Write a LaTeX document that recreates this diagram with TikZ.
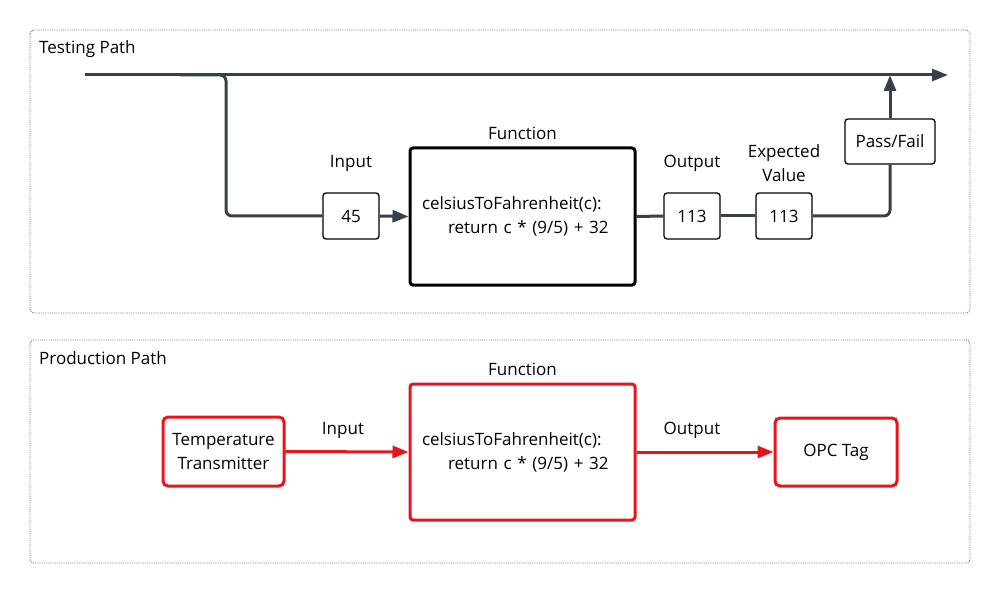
\documentclass[tikz,border=0pt]{standalone}
\usepackage{fontspec}
\setmainfont{Open Sans}
\usetikzlibrary{arrows.meta}
\definecolor{flowColor}{HTML}{3A4049}
\definecolor{prodColor}{HTML}{E8141B}
\definecolor{frameColor}{HTML}{707070}
\newcommand{\diagFont}{\fontsize{17bp}{24bp}\selectfont}
\tikzset{
  frameBox/.style={draw=frameColor, dash pattern=on 1bp off 1.2bp, line width=0.9bp, rounded corners=4bp},
  valueBox/.style={draw=black, line width=1.3bp, rounded corners=3bp, inner sep=0pt,
    minimum width=56bp, minimum height=46bp, font=\diagFont},
  funcBox/.style={draw=black, line width=3bp, rounded corners=3bp, inner xsep=12bp,
    text width=201bp, minimum height=137bp, align=left, font=\diagFont},
  prodBox/.style={draw=prodColor, line width=3bp, rounded corners=5bp, inner sep=0pt,
    align=center, font=\diagFont},
  lbl/.style={font=\diagFont, align=center, inner sep=0pt},
  flow/.style={draw=flowColor, line width=3bp},
  prodFlow/.style={draw=prodColor, line width=3bp},
  tip/.style={-{Triangle[length=16bp, width=12bp]}}
}

\begin{document}
\begin{tikzpicture}[x=1bp,y=-1bp]
\useasboundingbox (0,0) rectangle (1000,594);

% frames
\begin{scope}
\draw[frameBox] (30,30) rectangle (970,313);
\draw[frameBox] (30,340) rectangle (970,563);
\node[lbl, anchor=west] (testTitle) at (39,49) {Testing Path};
\node[lbl, anchor=west] (prodTitle) at (39,358) {Production Path};
\end{scope}

% testing path
\begin{scope}
\coordinate (mainStart) at (85,75);
\coordinate (mainEnd) at (948,75);
\coordinate (branch) at (180,75);
\coordinate (branchKnee) at (226,75);

\node[valueBox] (inTest) at (351,216) {45};
\node[funcBox] (fnTest) at (522.5,216.5)
  {celsiusToFahrenheit(c):\\\hspace*{26bp}return c * (9/5) + 32};
\node[valueBox] (outTest) at (692,216) {113};
\node[valueBox] (expTest) at (784,216) {113};
\node[valueBox, minimum width=90bp, minimum height=45bp] (passFail) at (890,141.5) {Pass/Fail};

\node[lbl] (inTestLbl) at (351,163) {Input};
\node[lbl] (fnTestLbl) at (522.5,133) {Function};
\node[lbl] (outTestLbl) at (692,163) {Output};
\node[lbl] (expTestLbl) at (784,163) {Expected\\Value};

\draw[flow, tip] (mainStart) -- (mainEnd);
\draw[flow, rounded corners=6bp] (branch) -- (branchKnee) |- (inTest.west);
\draw[flow, tip] (inTest.east) -- (fnTest.west);
\draw[flow] (fnTest.east) -- (outTest.west);
\draw[flow] (outTest.east) -- (expTest.west);
\draw[flow, rounded corners=6bp] (expTest.east) -| (passFail.south);
\draw[flow, tip] (passFail.north) -- (passFail.north |- mainStart);
\end{scope}

% production path
\begin{scope}
\node[prodBox, minimum width=121bp, minimum height=69bp] (transmitter) at (223.5,451.5)
  {Temperature\\Transmitter};
\node[funcBox, draw=prodColor, minimum height=136bp] (fnProd) at (522.5,452)
  {celsiusToFahrenheit(c):\\\hspace*{26bp}return c * (9/5) + 32};
\node[prodBox, minimum width=122bp, minimum height=68bp] (opcTag) at (836,452) {OPC Tag};

\node[lbl] (inProdLbl) at (343,430) {Input};
\node[lbl] (fnProdLbl) at (522.5,369) {Function};
\node[lbl] (outProdLbl) at (692,430) {Output};

\draw[prodFlow, tip] (transmitter.east) -- (fnProd.west);
\draw[prodFlow, tip] (fnProd.east) -- (opcTag.west);
\end{scope}

\end{tikzpicture}
\end{document}
